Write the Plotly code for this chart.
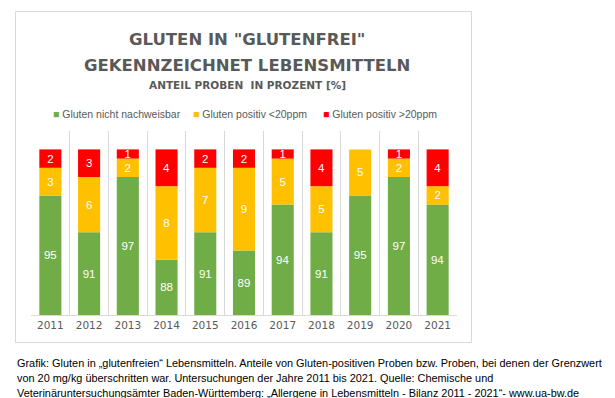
import plotly.graph_objects as go

# ---- data ----
years = ["2011", "2012", "2013", "2014", "2015", "2016", "2017", "2018", "2019", "2020", "2021"]
series_names = ["Gluten nicht nachweisbar", "Gluten positiv <20ppm", "Gluten positiv >20ppm"]
green_vals = [95, 91, 97, 88, 91, 89, 94, 91, 95, 97, 94]
yellow_vals = [3, 6, 2, 8, 7, 9, 5, 5, 5, 2, 2]
red_vals = [2, 3, 1, 4, 2, 2, 1, 4, 0, 1, 4]
title_lines = ['GLUTEN IN "GLUTENFREI"', "GEKENNZEICHNET LEBENSMITTELN", "ANTEIL PROBEN  IN PROZENT [%]"]
caption_lines = [
    "Grafik: Gluten in „glutenfreien“ Lebensmitteln. Anteile von Gluten-positiven Proben bzw. Proben, bei denen der Grenzwert",
    "von 20 mg/kg überschritten war. Untersuchungen der Jahre 2011 bis 2021. Quelle: Chemische und",
    "Veterinäruntersuchungsämter Baden-Württemberg: „Allergene in Lebensmitteln - Bilanz 2011 - 2021“- www.ua-bw.de",
]
Y_MIN, Y_MAX = 82, 102

# ---- style ----
colors = ["#70AD47", "#FFC000", "#FF0000"]
GRAY = "#595959"
GRID = "#D9D9D9"
W, H = 615, 398
PL, PR, PT, PB = 23, 449, 123, 307  # plot area in pixels


def px2x(px):
    return (px - PL) / (PR - PL)


def px2y(py):
    return (PB - py) / (PB - PT)


def labels(vals):
    return [str(v) if v else "" for v in vals]


fig = go.Figure()
bases = [
    [Y_MIN] * len(years),
    green_vals,
    [g + y for g, y in zip(green_vals, yellow_vals)],
]
heights = [
    [g - Y_MIN for g in green_vals],
    yellow_vals,
    red_vals,
]
texts = [labels(green_vals), labels(yellow_vals), labels(red_vals)]
for name, col, base, h, t in zip(series_names, colors, bases, heights, texts):
    fig.add_trace(go.Bar(
        x=years, y=h, base=base, name=name,
        marker=dict(color=col, line=dict(width=0)),
        text=t, textposition="inside", insidetextanchor="middle", textangle=0,
        textfont=dict(family="Liberation Sans", size=11.5, color="white"),
        showlegend=False, hoverinfo="skip",
    ))

fig.update_layout(
    width=W, height=H,
    margin=dict(l=PL, r=W - PR, t=PT, b=H - PB, pad=0),
    paper_bgcolor="white", plot_bgcolor="white",
    barmode="overlay", bargap=0.43,
    uniformtext=dict(mode="show", minsize=11.5),
    showlegend=False,
    xaxis=dict(
        type="category", tickson="boundaries", showgrid=True, gridcolor=GRID, gridwidth=1,
        showline=True, linecolor=GRID, linewidth=1,
        ticks="outside", ticklen=4, tickcolor="rgba(0,0,0,0)",
        tickfont=dict(family="DejaVu Sans", size=10.5, color=GRAY),
        zeroline=False, fixedrange=True,
    ),
    yaxis=dict(range=[Y_MIN, Y_MAX], visible=False, showgrid=False, zeroline=False, fixedrange=True),
)

# chart frame
fig.add_shape(type="rect", xref="paper", yref="paper",
              x0=px2x(7.5), x1=px2x(463.5), y0=px2y(334.5), y1=px2y(3.5),
              line=dict(color=GRID, width=1), fillcolor="rgba(0,0,0,0)", layer="below")

# title
cx = px2x(239.5)
for txt, py, size in zip(title_lines, [32, 57, 77], [16.5, 16.5, 10.5]):
    fig.add_annotation(x=cx, y=px2y(py), xref="paper", yref="paper", text=txt,
                       showarrow=False, xanchor="center", yanchor="middle",
                       font=dict(family="DejaVu Sans", size=size, color=GRAY, weight="bold"))

# legend
for name, col, lx in zip(series_names, colors, [43, 183, 313]):
    fig.add_annotation(x=px2x(lx), y=px2y(106), xref="paper", yref="paper",
                       text=f"<span style='color:{col}'>■</span> {name}",
                       showarrow=False, xanchor="left", yanchor="middle",
                       font=dict(family="Liberation Sans", size=10.5, color=GRAY))

# caption
for txt, py in zip(caption_lines, [355, 370, 385]):
    fig.add_annotation(x=px2x(6.5), y=px2y(py), xref="paper", yref="paper", text=txt,
                       showarrow=False, xanchor="left", yanchor="middle", align="left",
                       font=dict(family="Liberation Sans", size=10.9, color="#000000"))

fig.write_html("out.html")
